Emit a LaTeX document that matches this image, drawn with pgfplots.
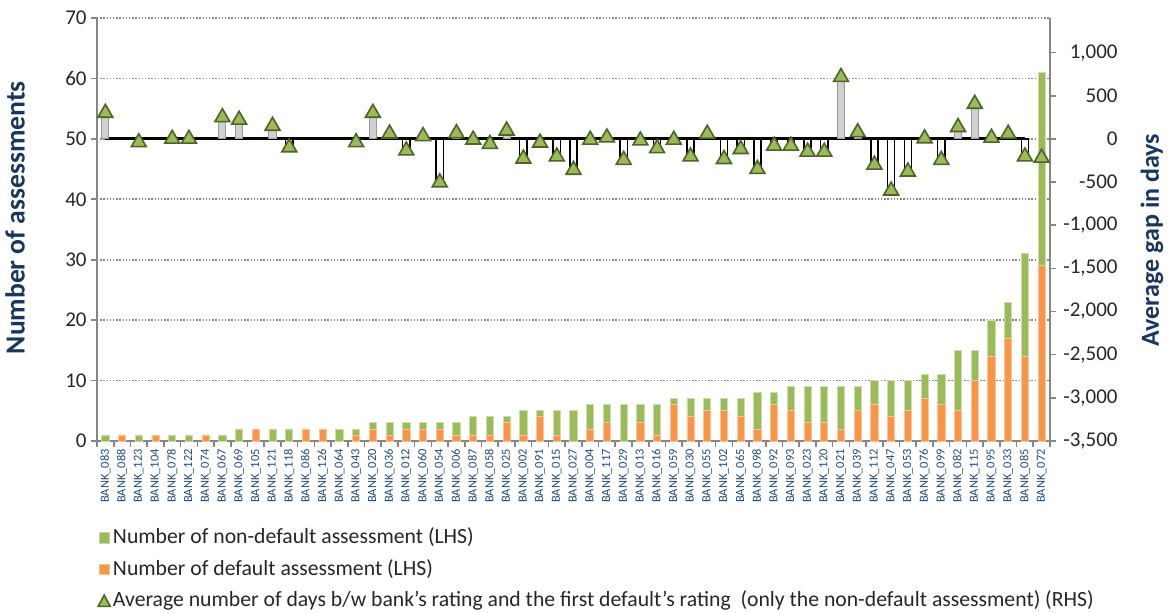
\documentclass[border=0pt]{standalone}
\usepackage{pgfplots}
\pgfplotsset{compat=1.18}
\usepackage{pgfplotstable}
\usepackage{fontspec}
\setmainfont{Carlito}

\definecolor{cgreen}{RGB}{155,187,89}
\definecolor{corange}{RGB}{247,150,70}
\definecolor{tridraw}{RGB}{79,98,40}
\definecolor{navy}{RGB}{23,55,94}
\definecolor{labblue}{RGB}{31,73,125}
\definecolor{axgray}{RGB}{134,134,134}
\definecolor{upgray}{RGB}{208,208,208}

\pgfplotstableread{
x def nondef
1 0 1
2 1 0
3 0 1
4 1 0
5 0 1
6 0 1
7 1 0
8 0 1
9 0 2
10 2 0
11 0 2
12 0 2
13 2 0
14 2 0
15 0 2
16 1 1
17 2 1
18 1 2
19 2 1
20 2 1
21 2 1
22 1 2
23 1 3
24 1 3
25 3 1
26 1 4
27 4 1
28 1 4
29 0 5
30 2 4
31 3 3
32 0 6
33 3 3
34 1 5
35 6 1
36 4 3
37 5 2
38 5 2
39 4 3
40 2 6
41 6 2
42 5 4
43 3 6
44 3 6
45 2 7
46 5 4
47 6 4
48 4 6
49 5 5
50 7 4
51 6 5
52 5 10
53 10 5
54 14 6
55 17 6
56 14 17
57 29 32
}\bars

\pgfplotstableread{
x g
1 300
3 -40
5 0
6 0
8 250
9 220
11 150
12 -100
16 -40
17 300
18 60
19 -135
20 30
21 -505
22 65
23 -10
24 -60
25 95
26 -230
27 -45
28 -205
29 -360
30 -12
31 15
32 -245
33 -20
34 -110
35 -12
36 -205
37 58
38 -235
39 -120
40 -350
41 -80
42 -80
43 -150
44 -150
45 715
46 75
47 -300
48 -600
49 -380
50 5
51 -245
52 135
53 405
54 12
55 58
56 -205
57 -220
}\gaps

\pgfplotsset{
  common/.style={
    scale only axis, width=476.5pt, height=211.5pt,
    xmin=0.5, xmax=57.5,
    /pgf/number format/assume math mode=true,
    tick label style={font=\fontsize{10.5}{12}\selectfont, text=black!85},
    tick align=outside,
    axis line style={axgray, line width=0.8pt},
    tick style={axgray, line width=0.8pt},
    major tick length=3pt,
  }
}

\begin{document}
\begin{tikzpicture}
\path[use as bounding box] (-48.5pt,-85.5pt) rectangle (535.5pt,220.5pt);
\begin{axis}[common,
  ymin=0, ymax=70,
  ytick={0,10,...,70},
  axis x line*=bottom, axis y line*=left,
  ymajorgrids,
  grid style={axgray, line width=0.8pt, dash pattern=on 0.7pt off 0.9pt},
  ybar stacked, bar width=3.6pt,
  xtick={1,...,57},
  xticklabels={BANK\_083,BANK\_088,BANK\_123,BANK\_104,BANK\_078,BANK\_122,BANK\_074,BANK\_067,BANK\_069,BANK\_105,BANK\_121,BANK\_118,BANK\_086,BANK\_126,BANK\_064,BANK\_043,BANK\_020,BANK\_036,BANK\_012,BANK\_060,BANK\_054,BANK\_006,BANK\_087,BANK\_058,BANK\_025,BANK\_002,BANK\_091,BANK\_015,BANK\_027,BANK\_004,BANK\_117,BANK\_029,BANK\_013,BANK\_016,BANK\_059,BANK\_030,BANK\_055,BANK\_102,BANK\_065,BANK\_098,BANK\_092,BANK\_093,BANK\_023,BANK\_120,BANK\_021,BANK\_039,BANK\_112,BANK\_047,BANK\_053,BANK\_076,BANK\_099,BANK\_082,BANK\_115,BANK\_095,BANK\_033,BANK\_085,BANK\_072},
  minor xtick={0.5,1.5,...,57.5},
  major x tick style={draw=none},
  minor tick length=3pt,
  xticklabel style={rotate=90, anchor=east, font=\fontsize{6.2}{7}\selectfont, text=labblue, inner sep=1pt},
  yticklabel style={anchor=east, inner sep=0pt, xshift=-2pt},
  ylabel={Number of assessments},
  ylabel style={at={(axis description cs:-0.086,0.528)}, anchor=center, font=\fontsize{13.8}{16}\selectfont\bfseries, text=navy},
  legend style={at={(axis description cs:0,0)}, anchor=north west, yshift=-42pt, draw=none, fill=none, inner sep=0pt,
    font=\fontsize{10.85}{12}\selectfont, text=black!85,
    nodes={inner sep=1pt, text height=8pt, text depth=2.5pt},
    row sep=3.3pt},
  legend cell align=left,
]
\addlegendimage{legend image code/.code={\draw[fill=cgreen, draw=cgreen!60!white] (0pt,-2.6pt) rectangle (5.2pt,2.6pt);}}
\addlegendentry{Number of non-default assessment (LHS)}
\addlegendimage{legend image code/.code={\draw[fill=corange, draw=corange!60!white] (0pt,-2.6pt) rectangle (5.2pt,2.6pt);}}
\addlegendentry{Number of default assessment (LHS)}
\addlegendimage{legend image code/.code={\draw[fill=cgreen, draw=tridraw, line width=0.8pt] (-0.4pt,-2.6pt) -- (5.6pt,-2.6pt) -- (2.6pt,3pt) -- cycle;}}
\addlegendentry{Average number of days b/w bank's rating and the first default's rating~ (only the non-default assessment) (RHS)}
\addplot[forget plot, fill=corange, draw=corange!55!white, line width=0.4pt] table[x=x, y=def]{\bars};
\addplot[forget plot, fill=cgreen, draw=cgreen!50!white, line width=0.4pt] table[x=x, y=nondef]{\bars};
\end{axis}
\begin{axis}[common,
  ymin=-3500, ymax=1400,
  ytick={-3500,-3000,...,1000},
  axis y line*=right, axis x line=none,
  yticklabel style={anchor=east, inner sep=0pt, xshift=31pt},
  ylabel={Average gap in days},
  ylabel style={at={(axis description cs:1.107,0.475)}, anchor=center, font=\fontsize{13}{16}\selectfont\bfseries, text=navy},
]
\addplot[black, line width=1.6pt] coordinates {(1,0) (56,0)};
\addplot[ybar, bar width=3.6pt, bar shift=0pt, fill=upgray, draw=gray!80, line width=0.5pt,
  restrict y to domain=1:2000, restrict x to domain=1:56] table[x=x, y=g]{\gaps};
\addplot[ybar, bar width=3.6pt, bar shift=0pt, fill=white, draw=black, line width=0.7pt,
  restrict y to domain=-4000:-1, restrict x to domain=1:56] table[x=x, y=g]{\gaps};
\addplot[only marks, mark=triangle*, mark size=4.3pt, mark options={fill=cgreen, draw=tridraw, line width=0.8pt}] table[x=x, y=g]{\gaps};
\end{axis}
\end{tikzpicture}
\end{document}
